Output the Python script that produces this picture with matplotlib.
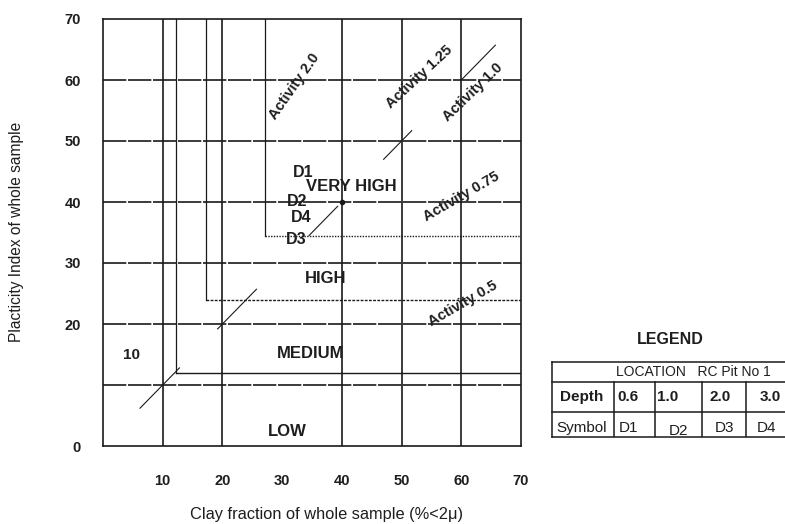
import matplotlib
matplotlib.use("Agg")
import matplotlib.pyplot as plt

plt.rcParams['font.family'] = ['Liberation Sans', 'DejaVu Sans']

# axes ticks
clay_ticks = [10, 20, 30, 40, 50, 60, 70]
pi_ticks = [0, 20, 30, 40, 50, 60, 70]
vert_grid = [10, 20, 40, 50, 60]
horiz_grid = [10, 20, 30, 40, 50, 60]

# zone boundaries (clay %, PI)
zone_clay = [12.2, 17.2, 27.2]
zone_pi = [12, 24, 34.5]
zone_names = ["LOW", "MEDIUM", "HIGH", "VERY HIGH"]
zone_xy = [(30.8, 2.3), (34.8, 15.2), (37.3, 27.5), (41.5, 42.5)]

# activity lines
activity_names = ["Activity 2.0", "Activity 1.25", "Activity 1.0", "Activity 0.75", "Activity 0.5"]
activity_xy = [(32, 59), (53, 60.5), (62, 58), (60, 40.8), (60.2, 23.3)]
activity_rot = [55, 43, 44, 30, 30]
# visible pieces of the activity 1.0 line (start, end clay %)
a1_pieces = [(6.2, 12.8), (19.2, 25.7), (34.5, 39.3), (47, 51.7), (60, 65.7)]

# samples
sample_names = ["D1", "D2", "D4", "D3"]
sample_xy = [(33.5, 44.9), (32.5, 40), (33.2, 37.5), (32.3, 33.9)]
sample_point = (40, 40)

# legend table
depths = ["0.6", "1.0", "2.0", "3.0"]
symbols = ["D1", "D2", "D3", "D4"]

fig = plt.figure(figsize=(7.85, 5.24), dpi=100)
ax = fig.add_axes([103/785, 78/524, 418/785, 427/524])
ax.set_xlim(0, 70)
ax.set_ylim(0, 70)

lc = '#1a1a1a'
tc = '#1e1e1e'
for v in vert_grid:
    ax.plot([v, v], [0, 70], color=lc, lw=1.2)
for h in horiz_grid:
    ax.plot([0, 70], [h, h], color=lc, lw=1.2, ls=(0, (14, 1)))

# zone boundaries
styles = ['-', (0, (2, 1)), (0, (1, 1))]
for xc, yp, st in zip(zone_clay, zone_pi, styles):
    ax.plot([xc, xc], [yp, 70], color=lc, lw=0.9)
    ax.plot([xc, 70], [yp, yp], color=lc, lw=1.0, ls=st)

for a, b in a1_pieces:
    ax.plot([a, b], [a, b], color=lc, lw=0.8)
ax.plot(*sample_point, 'o', color=lc, ms=3)

for name, (x, y) in zip(zone_names, zone_xy):
    ax.text(x, y, name, ha='center', va='center', fontsize=12, fontweight='bold', color=tc)
ax.text(4.8, 14.9, "10", ha='center', va='center', fontsize=11, fontweight='bold', color=tc)

for name, (x, y), r in zip(activity_names, activity_xy, activity_rot):
    ax.text(x, y, name, ha='center', va='center', rotation=r, fontsize=10.5,
            fontweight='bold', color=tc, rotation_mode='anchor')

for name, (x, y) in zip(sample_names, sample_xy):
    ax.text(x, y, name, ha='center', va='center', fontsize=11.5, fontweight='bold', color=tc)

for s in ax.spines.values():
    s.set_linewidth(1.2)
    s.set_color(lc)

ax.set_xticks(clay_ticks)
ax.set_yticks(pi_ticks)
ax.tick_params(length=0, labelsize=10.5, colors=tc)
ax.tick_params(axis='x', pad=20)
ax.tick_params(axis='y', pad=16)
for lab in ax.get_xticklabels() + ax.get_yticklabels():
    lab.set_fontweight('bold')

fig.text(17/785, 1 - 232/524, "Placticity Index of whole sample", rotation=90,
         ha='center', va='center', fontsize=11.2, color=tc)
fig.text(327/785, 1 - 515/524, "Clay fraction of whole sample (%<2\u03bc)",
         ha='center', va='center', fontsize=11.8, color=tc)

# legend table
fig.text(670/785, 1 - 340/524, "LEGEND", ha='center', va='center', fontsize=11.5,
         fontweight='bold', color=tc)
lg = fig.add_axes([552/785, 1 - 437/524, 233/785, 75/524])
lg.set_xlim(552, 785)
lg.set_ylim(437, 362)
lg.axis('off')
cols = [552, 614, 655, 702, 746]
rows = [362, 382, 412, 437]
for r in rows:
    lg.plot([552, 785], [r, r], color=lc, lw=1.1, clip_on=False)
lg.plot([552, 552], [362, 437], color=lc, lw=1.1, clip_on=False)
for c in cols[1:]:
    lg.plot([c, c], [382, 437], color=lc, lw=1.1)
lg.text(693, 372, "LOCATION   RC Pit No 1", ha='center', va='center', fontsize=10, color=tc)
lg.text(582, 397, "Depth", ha='center', va='center', fontsize=11, fontweight='bold', color=tc)
lg.text(582, 428, "Symbol", ha='center', va='center', fontsize=11, color=tc)
dx = [628, 668, 720, 770]
sx = [628, 678, 725, 767]
sy = [428, 431, 428, 428]
for x, d in zip(dx, depths):
    lg.text(x, 397, d, ha='center', va='center', fontsize=11, fontweight='bold', color=tc)
for x, y, s in zip(sx, sy, symbols):
    lg.text(x, y, s, ha='center', va='center', fontsize=11, color=tc)

fig.savefig("out.png", dpi=100)
